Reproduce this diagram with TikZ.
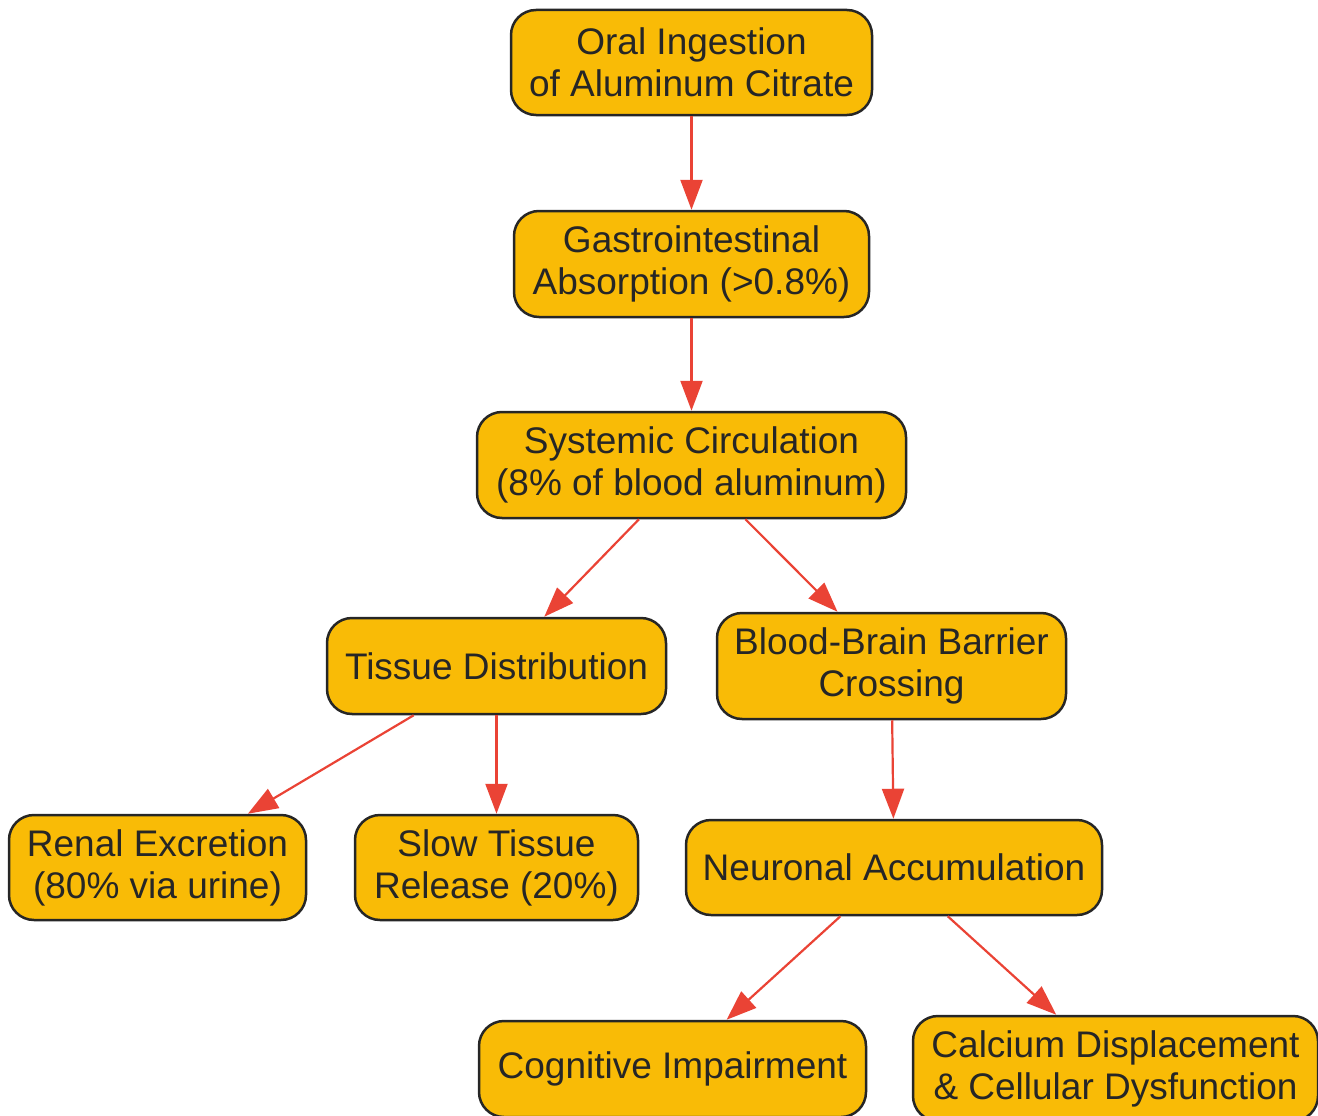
\documentclass[tikz,border=0pt]{standalone}
\usepackage{fontspec}
\setmainfont{Liberation Sans}
\usetikzlibrary{arrows.meta}
\definecolor{boxfill}{HTML}{F9BB06}
\definecolor{boxdraw}{HTML}{262626}
\definecolor{flowred}{HTML}{EA4335}
\tikzset{
  >={Triangle[length=30pt,width=22pt]},
  stepnode/.style={
    rectangle,
    rounded corners=25pt,
    fill=boxfill,
    draw=boxdraw, line width=2.5pt,
    align=center,
    text=boxdraw,
    inner sep=0pt,
    font=\fontsize{37}{42}\selectfont},
  flow/.style={draw=flowred, line width=2.2pt, ->, color=flowred},
}
\begin{document}
\begin{tikzpicture}[x=1pt,y=-1pt]
  \useasboundingbox (0,0) rectangle (1318,1116);
  % top chain
  \node[stepnode, minimum width=361pt, minimum height=105pt] (oral) at (691.5,62.5)
    {Oral Ingestion\\of Aluminum Citrate};
  \node[stepnode, minimum width=355pt, minimum height=106pt] (gastro) at (691.5,264)
    {Gastrointestinal\\Absorption (>0.8\%)};
  \node[stepnode, minimum width=429pt, minimum height=106pt] (sys) at (691.5,465)
    {Systemic Circulation\\(8\% of blood aluminum)};
  % branches
  \node[stepnode, minimum width=339pt, minimum height=96pt] (tissue) at (496.5,666)
    {Tissue Distribution};
  \node[stepnode, minimum width=349pt, minimum height=106pt] (bbb) at (891.5,666)
    {Blood-Brain Barrier\\Crossing};
  \node[stepnode, minimum width=297pt, minimum height=105pt] (renal) at (157.5,867.5)
    {Renal Excretion\\(80\% via urine)};
  \node[stepnode, minimum width=283pt, minimum height=105pt] (slow) at (496.5,867.5)
    {Slow Tissue\\Release (20\%)};
  \node[stepnode, minimum width=416pt, minimum height=95pt] (neuro) at (894,867.5)
    {Neuronal Accumulation};
  \node[stepnode, minimum width=387pt, minimum height=96pt] (cog) at (672.5,1069)
    {Cognitive Impairment};
  \node[stepnode, minimum width=405pt, minimum height=105pt] (calc) at (1115.5,1068.5)
    {Calcium Displacement\\\& Cellular Dysfunction};
  % connectors
  \draw[flow] (oral) -- (gastro);
  \draw[flow] (gastro) -- (sys);
  \draw[flow] (sys) -- (tissue);
  \draw[flow] (sys) -- (bbb);
  \draw[flow] (tissue) -- (renal);
  \draw[flow] (tissue) -- (slow);
  \draw[flow] (bbb) -- (neuro);
  \draw[flow] (neuro) -- (cog);
  \draw[flow] (neuro) -- (calc);
\end{tikzpicture}
\end{document}
